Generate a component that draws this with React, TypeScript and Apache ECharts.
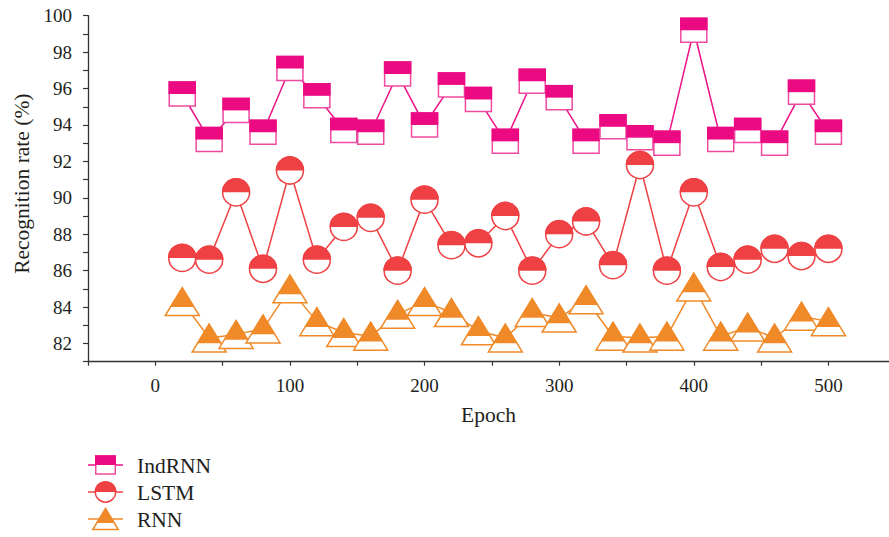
import React, { useEffect, useRef } from "react";
import * as echarts from "echarts";

const epochs = [20, 40, 60, 80, 100, 120, 140, 160, 180, 200, 220, 240, 260, 280, 300, 320, 340, 360, 380, 400, 420, 440, 460, 480, 500];
const indrnn = [95.7, 93.2, 94.8, 93.6, 97.1, 95.6, 93.7, 93.6, 96.8, 94.0, 96.2, 95.4, 93.1, 96.4, 95.5, 93.1, 93.9, 93.3, 93.0, 99.2, 93.2, 93.7, 93.0, 95.8, 93.6];
const lstm = [86.7, 86.6, 90.3, 86.1, 91.5, 86.6, 88.4, 88.9, 86.0, 89.9, 87.4, 87.5, 89.0, 86.0, 88.0, 88.7, 86.3, 91.8, 86.0, 90.3, 86.2, 86.6, 87.2, 86.8, 87.2];
const rnn = [84.3, 82.3, 82.5, 82.8, 85.0, 83.2, 82.6, 82.4, 83.6, 84.3, 83.7, 82.7, 82.3, 83.7, 83.4, 84.4, 82.4, 82.3, 82.4, 85.1, 82.4, 82.9, 82.3, 83.5, 83.2];
const seriesNames = ["IndRNN", "LSTM", "RNN"];

const FONT = "'Liberation Serif', 'DejaVu Serif', serif";
const TEXT = "#231f20";

const STYLES: Record<string, { line: string; fill: string; stroke: string }> = {
  square: { line: "#ec1187", fill: "#ec0a83", stroke: "#ef4aa0" },
  circle: { line: "#ef4044", fill: "#ef4044", stroke: "#ef4044" },
  triangle: { line: "#f08a28", fill: "#f08a28", stroke: "#f08a28" },
};

function marker(kind: string, cx: number, cy: number, s: number): any[] {
  const st = STYLES[kind];
  if (kind === "square") {
    const w = 26 * s, h = 24 * s;
    return [
      { type: "rect", shape: { x: cx - w / 2, y: cy - h / 2, width: w, height: h }, style: { fill: "#fff", stroke: st.stroke, lineWidth: 1.5 } },
      { type: "rect", shape: { x: cx - w / 2 - 0.75, y: cy - h / 2 - 0.75, width: w + 1.5, height: h / 2 + 0.75 }, style: { fill: st.fill } },
    ];
  }
  if (kind === "circle") {
    const r = 13.5 * s;
    return [
      { type: "circle", shape: { cx, cy, r }, style: { fill: "#fff", stroke: st.stroke, lineWidth: 1.5 } },
      { type: "sector", shape: { cx, cy, r0: 0, r: r + 0.75, startAngle: Math.PI, endAngle: Math.PI * 2, clockwise: true }, style: { fill: st.fill } },
    ];
  }
  const w = 34 * s, h = 28 * s;
  const f = 0.69;
  const top = cy - h / 2;
  return [
    { type: "polygon", shape: { points: [[cx, top], [cx + w / 2, top + h], [cx - w / 2, top + h]] }, style: { fill: "#fff", stroke: st.stroke, lineWidth: 1.5 } },
    { type: "polygon", shape: { points: [[cx, top - 0.5], [cx + (w / 2) * f + 0.5, top + h * f], [cx - (w / 2) * f - 0.5, top + h * f]] }, style: { fill: st.fill } },
  ];
}

export default function App() {
  const ref = useRef<HTMLDivElement>(null);
  useEffect(() => {
    if (!ref.current) return;
    const chart = echarts.init(ref.current, null, { renderer: "svg" });
    const kinds = ["square", "circle", "triangle"];
    const datasets = [indrnn, lstm, rnn];
    const series: any[] = [];
    datasets.forEach((vals, i) => {
      const data = epochs.map((e, j) => [e, vals[j]]);
      const kind = kinds[i];
      series.push({
        type: "line",
        name: seriesNames[i],
        data,
        symbol: "none",
        lineStyle: { color: STYLES[kind].line, width: 1.5 },
        z: 2,
        silent: true,
      });
      series.push({
        type: "custom",
        name: seriesNames[i] + "-m",
        data,
        encode: { x: 0, y: 1 },
        z: 3,
        silent: true,
        renderItem: (params: any, api: any) => {
          const p = api.coord([api.value(0), api.value(1)]);
          return { type: "group", children: marker(kind, p[0], p[1], 1) };
        },
      });
    });

    const legendRows = [465, 492, 519];
    const legendChildren: any[] = [];
    kinds.forEach((kind, i) => {
      const y = legendRows[i];
      legendChildren.push({ type: "line", shape: { x1: 88, y1: y, x2: 123, y2: y }, style: { stroke: STYLES[kind].line, lineWidth: 1.5 } });
      marker(kind, 105.5, y, 0.75).forEach((m) => legendChildren.push(m));
      legendChildren.push({
        type: "text",
        style: { text: seriesNames[i], x: 137, y: y + 1, font: `21.5px ${FONT}`, fill: TEXT, verticalAlign: "middle", align: "left" },
      });
    });

    chart.setOption({
      animation: false,
      backgroundColor: "#fff",
      grid: { left: 88, top: 15.7, bottom: 175.3, right: 0, containLabel: false },
      xAxis: {
        type: "value",
        min: -50,
        max: 545,
        interval: 50,
        name: "Epoch",
        nameLocation: "middle",
        nameGap: 42,
        nameTextStyle: { fontFamily: FONT, fontSize: 21.5, color: TEXT },
        axisLine: { onZero: false, lineStyle: { color: "#333", width: 1.3 } },
        axisTick: { show: true, length: 4, lineStyle: { color: "#333", width: 1.2 } },
        axisLabel: {
          margin: 14,
          fontFamily: FONT,
          fontSize: 19,
          color: TEXT,
          showMaxLabel: false,
          formatter: (v: number) => (v % 100 === 0 ? String(v) : ""),
        },
        splitLine: { show: false },
      },
      yAxis: {
        type: "value",
        min: 81,
        max: 100,
        interval: 1,
        name: "Recognition rate (%)",
        nameLocation: "middle",
        nameGap: 55,
        nameTextStyle: { fontFamily: FONT, fontSize: 21.5, color: TEXT, padding: [0, 0, 0, 10] },
        axisLine: { show: true, onZero: false, lineStyle: { color: "#333", width: 1.3 } },
        axisTick: { show: true, length: 5, lineStyle: { color: "#333", width: 1.2 } },
        axisLabel: {
          margin: 16,
          fontFamily: FONT,
          fontSize: 19,
          color: TEXT,
          formatter: (v: number) => (v % 2 === 0 ? String(v) : ""),
        },
        splitLine: { show: false },
      },
      graphic: [{ type: "group", children: legendChildren }],
      series,
    });
    return () => chart.dispose();
  }, []);
  return <div ref={ref} style={{ position: "fixed", left: 0, top: 0, width: 889, height: 537 }} />;
}
